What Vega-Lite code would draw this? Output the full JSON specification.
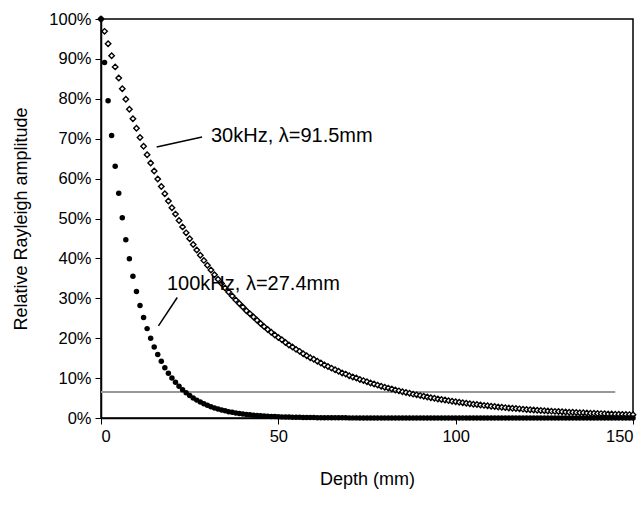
{
  "$schema": "https://vega.github.io/schema/vega-lite/v6.json",
  "width": 532,
  "height": 399,
  "autosize": "none",
  "padding": {"left": 101, "top": 19, "right": 11, "bottom": 96},
  "background": "white",
  "data": {"values": [
{"d":0,"a":100,"b":100},{"d":1,"a":96.9,"b":89.1},{"d":2,"a":93.8,"b":79.5},{"d":3,"a":90.8,"b":70.8},{"d":4,"a":88.0,"b":63.1},{"d":5,"a":85.2,"b":56.3},{"d":6,"a":82.5,"b":50.2},{"d":7,"a":79.9,"b":44.7},{"d":8,"a":77.4,"b":39.9},{"d":9,"a":75.0,"b":35.5},
{"d":10,"a":72.6,"b":31.7},{"d":11,"a":70.3,"b":28.2},{"d":12,"a":68.1,"b":25.2},{"d":13,"a":66.0,"b":22.4},{"d":14,"a":63.9,"b":20.0},{"d":15,"a":61.9,"b":17.8},{"d":16,"a":59.9,"b":15.9},{"d":17,"a":58.0,"b":14.2},{"d":18,"a":56.2,"b":12.6},{"d":19,"a":54.4,"b":11.2},
{"d":20,"a":52.7,"b":10.0},{"d":21,"a":51.1,"b":8.94},{"d":22,"a":49.5,"b":7.97},{"d":23,"a":47.9,"b":7.10},{"d":24,"a":46.4,"b":6.33},{"d":25,"a":44.9,"b":5.64},{"d":26,"a":43.5,"b":5.03},{"d":27,"a":42.1,"b":4.48},{"d":28,"a":40.8,"b":4.00},{"d":29,"a":39.5,"b":3.56},
{"d":30,"a":38.3,"b":3.18},{"d":31,"a":37.1,"b":2.83},{"d":32,"a":35.9,"b":2.52},{"d":33,"a":34.8,"b":2.25},{"d":34,"a":33.7,"b":2.00},{"d":35,"a":32.6,"b":1.79},{"d":36,"a":31.6,"b":1.59},{"d":37,"a":30.6,"b":1.42},{"d":38,"a":29.6,"b":1.27},{"d":39,"a":28.7,"b":1.13},
{"d":40,"a":27.8,"b":1.01},{"d":41,"a":26.9,"b":0.90},{"d":42,"a":26.1,"b":0.80},{"d":43,"a":25.3,"b":0.71},{"d":44,"a":24.5,"b":0.63},{"d":45,"a":23.7,"b":0.57},{"d":46,"a":22.9,"b":0.50},{"d":47,"a":22.2,"b":0.45},{"d":48,"a":21.5,"b":0.40},{"d":49,"a":20.8,"b":0.36},
{"d":50,"a":20.2,"b":0.32},{"d":51,"a":19.6,"b":0.28},{"d":52,"a":18.9,"b":0.25},{"d":53,"a":18.3,"b":0.23},{"d":54,"a":17.8,"b":0.20},{"d":55,"a":17.2,"b":0.18},{"d":56,"a":16.7,"b":0.16},{"d":57,"a":16.1,"b":0.14},{"d":58,"a":15.6,"b":0.13},{"d":59,"a":15.1,"b":0.11},
{"d":60,"a":14.7,"b":0.10},{"d":61,"a":14.2,"b":0.09},{"d":62,"a":13.8,"b":0.08},{"d":63,"a":13.3,"b":0.07},{"d":64,"a":12.9,"b":0.06},{"d":65,"a":12.5,"b":0.06},{"d":66,"a":12.1,"b":0.05},{"d":67,"a":11.7,"b":0.05},{"d":68,"a":11.3,"b":0.04},{"d":69,"a":11.0,"b":0.04},
{"d":70,"a":10.6,"b":0.03},{"d":71,"a":10.3,"b":0.03},{"d":72,"a":10.0,"b":0.03},{"d":73,"a":9.67,"b":0.02},{"d":74,"a":9.37,"b":0.02},{"d":75,"a":9.07,"b":0.02},{"d":76,"a":8.79,"b":0.02},{"d":77,"a":8.51,"b":0.01},{"d":78,"a":8.24,"b":0.01},{"d":79,"a":7.98,"b":0.01},
{"d":80,"a":7.73,"b":0.01},{"d":81,"a":7.49,"b":0.01},{"d":82,"a":7.25,"b":0.01},{"d":83,"a":7.02,"b":0.01},{"d":84,"a":6.80,"b":0.01},{"d":85,"a":6.59,"b":0},{"d":86,"a":6.38,"b":0},{"d":87,"a":6.18,"b":0},{"d":88,"a":5.98,"b":0},{"d":89,"a":5.80,"b":0},
{"d":90,"a":5.61,"b":0},{"d":91,"a":5.44,"b":0},{"d":92,"a":5.27,"b":0},{"d":93,"a":5.10,"b":0},{"d":94,"a":4.94,"b":0},{"d":95,"a":4.78,"b":0},{"d":96,"a":4.63,"b":0},{"d":97,"a":4.49,"b":0},{"d":98,"a":4.35,"b":0},{"d":99,"a":4.21,"b":0},
{"d":100,"a":4.08,"b":0},{"d":101,"a":3.95,"b":0},{"d":102,"a":3.82,"b":0},{"d":103,"a":3.70,"b":0},{"d":104,"a":3.59,"b":0},{"d":105,"a":3.47,"b":0},{"d":106,"a":3.36,"b":0},{"d":107,"a":3.26,"b":0},{"d":108,"a":3.16,"b":0},{"d":109,"a":3.06,"b":0},
{"d":110,"a":2.96,"b":0},{"d":111,"a":2.87,"b":0},{"d":112,"a":2.78,"b":0},{"d":113,"a":2.69,"b":0},{"d":114,"a":2.60,"b":0},{"d":115,"a":2.52,"b":0},{"d":116,"a":2.44,"b":0},{"d":117,"a":2.37,"b":0},{"d":118,"a":2.29,"b":0},{"d":119,"a":2.22,"b":0},
{"d":120,"a":2.15,"b":0},{"d":121,"a":2.08,"b":0},{"d":122,"a":2.02,"b":0},{"d":123,"a":1.95,"b":0},{"d":124,"a":1.89,"b":0},{"d":125,"a":1.83,"b":0},{"d":126,"a":1.77,"b":0},{"d":127,"a":1.72,"b":0},{"d":128,"a":1.66,"b":0},{"d":129,"a":1.61,"b":0},
{"d":130,"a":1.56,"b":0},{"d":131,"a":1.51,"b":0},{"d":132,"a":1.46,"b":0},{"d":133,"a":1.42,"b":0},{"d":134,"a":1.37,"b":0},{"d":135,"a":1.33,"b":0},{"d":136,"a":1.29,"b":0},{"d":137,"a":1.25,"b":0},{"d":138,"a":1.21,"b":0},{"d":139,"a":1.17,"b":0},
{"d":140,"a":1.13,"b":0},{"d":141,"a":1.10,"b":0},{"d":142,"a":1.06,"b":0},{"d":143,"a":1.03,"b":0},{"d":144,"a":1.00,"b":0},{"d":145,"a":0.97,"b":0},{"d":146,"a":0.94,"b":0},{"d":147,"a":0.91,"b":0},{"d":148,"a":0.88,"b":0},{"d":149,"a":0.85,"b":0},
{"d":150,"a":0.82,"b":0}
  ]},
  "layer": [
    {
      "data": {"values": [{"y": 6.5, "x1": 0, "x2": 145}]},
      "mark": {"type": "rule", "color": "#999999", "strokeWidth": 2},
      "encoding": {
        "x": {"field": "x1", "type": "quantitative", "scale": {"domain": [0, 150], "nice": false},
          "axis": {"values": [0, 50, 100, 150], "title": "Depth (mm)", "grid": false, "titlePadding": 26}},
        "x2": {"field": "x2"},
        "y": {"field": "y", "type": "quantitative", "scale": {"domain": [0, 100], "nice": false},
          "axis": {"tickCount": 10, "labelExpr": "datum.value + '%'", "labelOverlap": false, "title": "Relative Rayleigh amplitude", "grid": false, "titlePadding": 18}}
      }
    },
    {
      "mark": {"type": "point", "shape": "diamond", "filled": false, "fill": "white", "stroke": "black", "strokeWidth": 1.4, "size": 30, "opacity": 1},
      "encoding": {
        "x": {"field": "d", "type": "quantitative"},
        "y": {"field": "a", "type": "quantitative"}
      }
    },
    {
      "mark": {"type": "circle", "color": "black", "size": 30, "opacity": 1},
      "encoding": {
        "x": {"field": "d", "type": "quantitative"},
        "y": {"field": "b", "type": "quantitative"}
      }
    },
    {
      "data": {"values": [
        {"s": "30", "x1": 15.7, "y1": 67.9, "x2": 28.5, "y2": 70.4},
        {"s": "100", "x1": 16.2, "y1": 23.1, "x2": 21.5, "y2": 30.2}
      ]},
      "mark": {"type": "rule", "color": "black", "strokeWidth": 1.5},
      "encoding": {
        "x": {"field": "x1", "type": "quantitative"},
        "y": {"field": "y1", "type": "quantitative"},
        "x2": {"field": "x2"},
        "y2": {"field": "y2"}
      }
    },
    {
      "data": {"values": [
        {"t": "30kHz, λ=91.5mm", "x": 31, "y": 70.8},
        {"t": "100kHz, λ=27.4mm", "x": 18.6, "y": 33.7}
      ]},
      "mark": {"type": "text", "align": "left", "baseline": "middle", "fontSize": 20, "font": "Liberation Sans", "color": "black"},
      "encoding": {
        "x": {"field": "x", "type": "quantitative"},
        "y": {"field": "y", "type": "quantitative"},
        "text": {"field": "t"}
      }
    }
  ],
  "config": {
    "font": "Liberation Sans",
    "view": {"stroke": "black", "strokeWidth": 1.5},
    "axis": {
      "domainColor": "black",
      "domainWidth": 1.5,
      "tickColor": "black",
      "tickSize": 6,
      "labelColor": "black",
      "labelFontSize": 16.5,
      "titleFontSize": 18,
      "titleFontWeight": "normal",
      "titleColor": "black",
      "labelPadding": 4,
      "labelOverlap": false
    }
  }
}
